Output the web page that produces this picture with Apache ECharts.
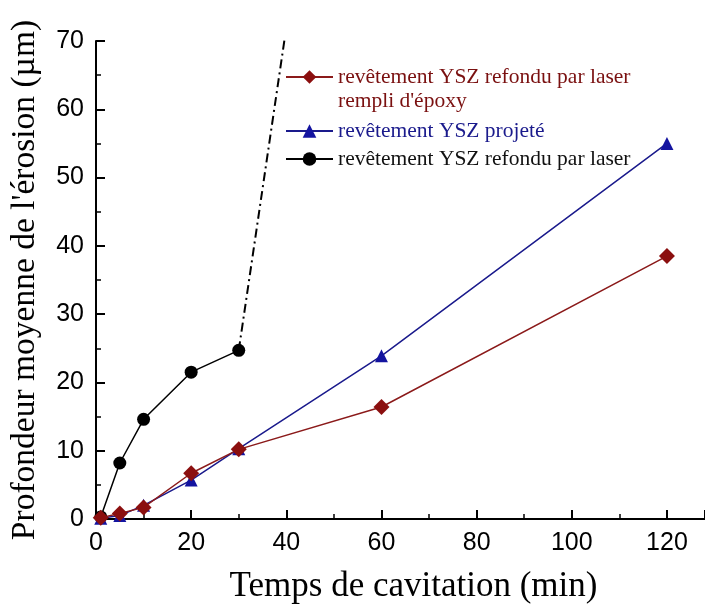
<!DOCTYPE html>
<html>
<head>
<meta charset="utf-8">
<script src="https://cdn.jsdelivr.net/npm/echarts@6/dist/echarts.min.js"></script>
<style>
  html, body { margin: 0; padding: 0; background: #fff; }
  #chart { width: 705px; height: 607px; }
</style>
</head>
<body>
<div id="chart"></div>
<script>
// temps de cavitation (min)
var temps = [1, 5, 10, 20, 30, 60, 120];
var tempsLaser = [1, 5, 10, 20, 30];
// profondeur moyenne (µm)
var epoxy = [0.2, 0.8, 1.7, 6.7, 10.2, 16.4, 38.5];
var projete = [0.1, 0.5, 2.0, 5.7, 10.3, 23.9, 55.0];
var laser = [0.3, 8.2, 14.6, 21.5, 24.7];
// suite en tirets-points, au-dela du cadre
var laserSuiteX = [30, 40];
var laserSuiteY = [24.7, 72];

var nomEpoxy = "revêtement YSZ refondu par laser\nrempli d'époxy";
var nomProjete = 'revêtement YSZ projeté';
var nomLaser = 'revêtement YSZ refondu par laser';

function paires(xs, ys) {
  return xs.map(function (x, i) { return [x, ys[i]]; });
}

var serif = '"Liberation Serif", "Times New Roman", serif';
var sans = '"Liberation Sans", Arial, sans-serif';

var chart = echarts.init(document.getElementById('chart'));

var legendeBase = {
  orient: 'vertical',
  itemWidth: 47,
  itemHeight: 17,
  left: 280
};

chart.setOption({
  animation: false,
  grid: { left: 96, right: 0, top: 41, bottom: 88, outerBoundsMode: 'none', containLabel: false },
  legend: [
    Object.assign({}, legendeBase, {
      data: [nomEpoxy], top: 36,
      formatter: function (n) { return ' \n' + n; },
      textStyle: { fontFamily: serif, fontSize: 21.5, lineHeight: 24, color: '#7a1010' }
    }),
    Object.assign({}, legendeBase, {
      data: [nomProjete], top: 115,
      textStyle: { fontFamily: serif, fontSize: 21.5, color: '#1a1a8c' }
    }),
    Object.assign({}, legendeBase, {
      data: [nomLaser], top: 143,
      textStyle: { fontFamily: serif, fontSize: 21.5, color: '#111' }
    })
  ],
  xAxis: [{
    type: 'value',
    min: 0, max: 128, interval: 20,
    name: 'Temps de cavitation (min)',
    nameLocation: 'middle', nameGap: 50, nameMoveOverlap: false,
    nameTextStyle: { fontFamily: serif, fontSize: 35, color: '#000', padding: [0, 0, 0, 26] },
    axisLine: { onZero: false, lineStyle: { color: '#000', width: 2 } },
    axisTick: { inside: true, length: 9, lineStyle: { color: '#000', width: 2 } },
    minorTick: { show: true, splitNumber: 2, length: 5, lineStyle: { color: '#000', width: 1.5 } },
    axisLabel: { showMaxLabel: false, margin: 12, fontFamily: sans, fontSize: 25, color: '#000' },
    splitLine: { show: false }
  }, {
    type: 'value', position: 'top',
    min: 0, max: 128,
    axisLine: { show: true, lineStyle: { color: '#000', width: 2 } },
    axisTick: { show: false }, axisLabel: { show: false }, splitLine: { show: false }
  }],
  yAxis: {
    type: 'value',
    min: 0, max: 70, interval: 10,
    name: "Profondeur moyenne de l'érosion (µm)",
    nameLocation: 'middle', nameGap: 54, nameMoveOverlap: false,
    nameTextStyle: { fontFamily: serif, fontSize: 33.5, color: '#000' },
    axisLine: { show: true, lineStyle: { color: '#000', width: 2 } },
    axisTick: { inside: true, length: 9, lineStyle: { color: '#000', width: 2 } },
    minorTick: { show: true, splitNumber: 2, length: 5, lineStyle: { color: '#000', width: 1.5 } },
    axisLabel: { margin: 12, fontFamily: sans, fontSize: 25, color: '#000' },
    splitLine: { show: false }
  },
  series: [{
    name: nomLaser, type: 'line',
    data: paires(tempsLaser, laser),
    symbol: 'circle', symbolSize: 13,
    itemStyle: { color: '#000' },
    lineStyle: { color: '#000', width: 1.5 }
  }, {
    type: 'line',
    data: paires(laserSuiteX, laserSuiteY),
    symbol: 'none', clip: true,
    lineStyle: { color: '#000', width: 2, type: [9, 4, 2, 4] }
  }, {
    name: nomProjete, type: 'line',
    data: paires(temps, projete),
    symbol: 'triangle', symbolSize: 13,
    itemStyle: { color: '#1414a0' },
    lineStyle: { color: '#1a1a8c', width: 1.5 }
  }, {
    name: nomEpoxy, type: 'line',
    data: paires(temps, epoxy),
    symbol: 'diamond', symbolSize: 16,
    itemStyle: { color: '#8b0f0f' },
    lineStyle: { color: '#8b1a1a', width: 1.5 }
  }]
});
</script>
</body>
</html>
